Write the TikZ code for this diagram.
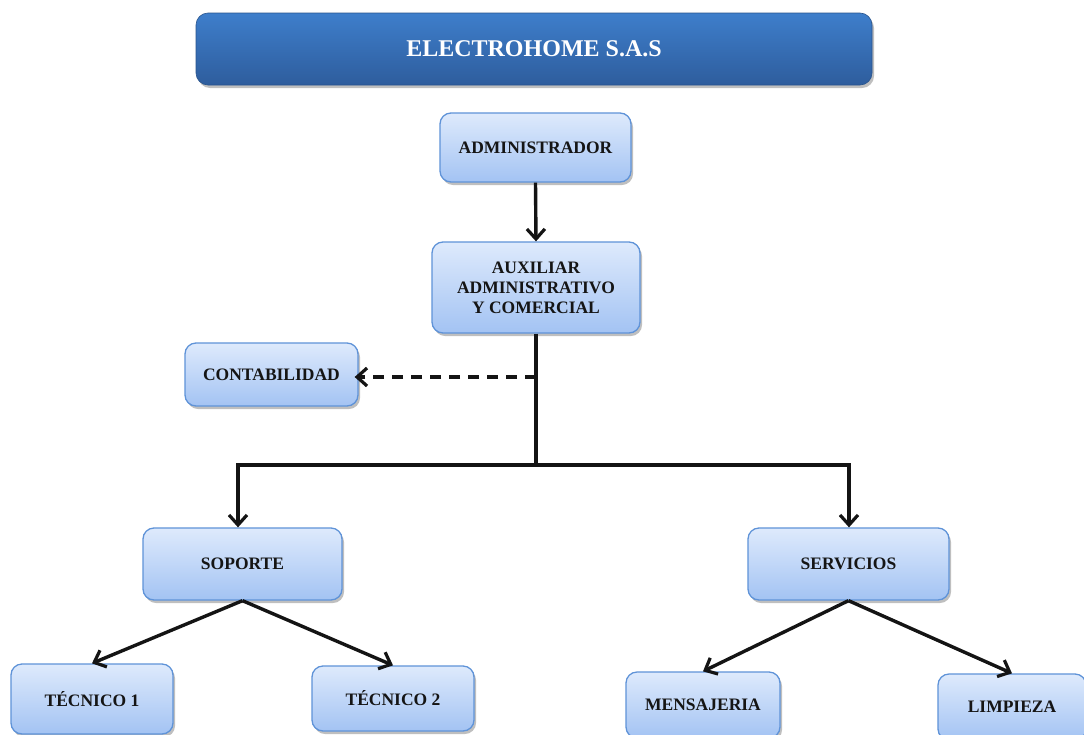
\documentclass[tikz,border=0pt]{standalone}
\usepackage{fontspec}
\setmainfont{Liberation Serif}
\usetikzlibrary{shadows,arrows.meta}
\definecolor{boxtop}{HTML}{DEEAFC}
\definecolor{boxbot}{HTML}{A3C3F3}
\definecolor{boxline}{HTML}{5F93D8}
\definecolor{ttop}{HTML}{3E7ECB}
\definecolor{tbot}{HTML}{2E5D9D}
\definecolor{txt}{HTML}{151515}
\tikzset{
  box/.style={draw=boxline, line width=1.3pt, rounded corners=11pt,
    top color=boxtop, bottom color=boxbot,
    drop shadow={shadow xshift=2pt, shadow yshift=-3pt, fill=black!50, opacity=0.5},
    inner sep=0pt, align=center, text=txt,
    font=\fontsize{17.5}{20}\selectfont\bfseries},
  titlebox/.style={draw=tbot!90!black, line width=0.6pt, rounded corners=12pt,
    top color=ttop, bottom color=tbot,
    drop shadow={shadow xshift=2pt, shadow yshift=-3pt, fill=black!50, opacity=0.5},
    inner sep=0pt, text=white, font=\fontsize{24}{28}\selectfont\bfseries},
  conn/.style={line width=3.4pt, draw=black!92},
  arrowtip/.style={-{Straight Barb[length=10pt,width=18pt,line width=3.2pt]}},
  dashline/.style={line width=3.4pt, draw=black!92, dash pattern=on 11pt off 8pt}
}
\begin{document}
\begin{tikzpicture}[x=1pt,y=-1pt]
\useasboundingbox (0,0) rectangle (1084,734);
\clip (0,0) rectangle (1084,734);
\fill[white] (0,0) rectangle (1084,734);

\node[titlebox, minimum width=676pt, minimum height=72pt] (title) at (534,49) {ELECTROHOME S.A.S};

\node[box, minimum width=191pt, minimum height=69pt] (adm) at (535.5,147.5) {ADMINISTRADOR};
\node[box, minimum width=208pt, minimum height=91pt] (aux) at (536,287.5) {AUXILIAR\\ADMINISTRATIVO\\Y COMERCIAL};
\node[box, minimum width=173pt, minimum height=63pt] (cont) at (271.5,374.5) {CONTABILIDAD};
\node[box, minimum width=199pt, minimum height=72pt] (sop) at (242.5,564) {SOPORTE};
\node[box, minimum width=201pt, minimum height=72pt] (serv) at (848.5,564) {SERVICIOS};
\node[box, minimum width=162pt, minimum height=70pt] (tec1) at (92,699) {TÉCNICO 1};
\node[box, minimum width=162pt, minimum height=65pt] (tec2) at (393,698.5) {TÉCNICO 2};
\node[box, minimum width=154pt, minimum height=66pt] (mens) at (703,705) {MENSAJERIA};
\node[box, minimum width=148pt, minimum height=66pt] (limp) at (1012,707) {LIMPIEZA};

\coordinate (j) at (536,465);
\coordinate (d) at (536,377);
\coordinate (jl) at (238,465);
\coordinate (jr) at (849,465);

\draw[conn,arrowtip] (adm.south) -- (aux.north);
\draw[conn] (aux.south) -- (j);
\draw[conn,line cap=rect] (jl) -- (jr);
\draw[conn,arrowtip] (jl) -- (jl |- sop.north);
\draw[conn,arrowtip] (jr) -- (jr |- serv.north);
\draw[dashline,arrowtip,shorten >=-4pt] (d) -- (d -| cont.east);

\draw[conn,arrowtip] (sop.south) -- (tec1.north);
\draw[conn,arrowtip] (sop.south) -- (tec2.north);
\draw[conn,arrowtip] (serv.south) -- (mens.north);
\draw[conn,arrowtip] (serv.south) -- (limp.north);
\end{tikzpicture}
\end{document}
